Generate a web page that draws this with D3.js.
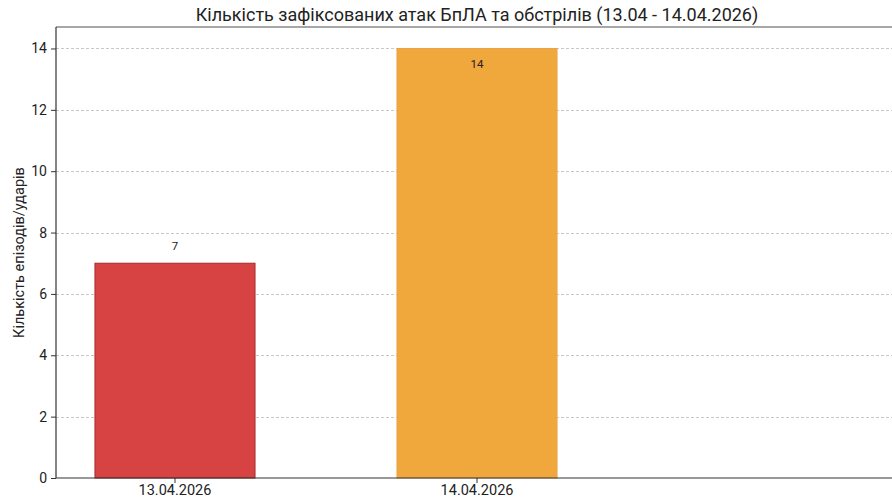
<!DOCTYPE html>
<html><head><meta charset="utf-8">
<script src="https://cdn.jsdelivr.net/npm/d3@7"></script>
<style>
html,body{margin:0;padding:0;background:#fff;}
svg{display:block;font-family:Roboto,"Noto Sans",sans-serif;}
</style></head>
<body><svg id="c" width="892" height="504"></svg>
<script>
const categories = ["13.04.2026", "14.04.2026"];
const values = [7, 14];
const colors = ["#d74343", "#f0a83d"];
const edgeColors = ["#a52a2a", "#e9a347"];
const yTicks = [0, 2, 4, 6, 8, 10, 12, 14];
const title = "Кількість зафіксованих атак БпЛА та обстрілів (13.04 - 14.04.2026)";
const yLabel = "Кількість епізодів/ударів";

(function () {
const mLeft = 56, mRight = 898, mTop = 27, mBottom = 478;
const svg = d3.select("#c");

const x = d3.scaleBand().domain(categories).range([mLeft, 596]).paddingInner(0.47).paddingOuter(0.129);
const y = d3.scaleLinear().domain([0, 14.7]).range([mBottom, mTop]);

// grid
svg.append("g").selectAll("line").data(yTicks.filter(d => d > 0)).join("line")
  .attr("x1", mLeft).attr("x2", mRight)
  .attr("y1", d => Math.round(y(d)) + 0.5).attr("y2", d => Math.round(y(d)) + 0.5)
  .attr("stroke", "#c8c8c8").attr("stroke-width", 1).attr("stroke-dasharray", "3,2");

// bars
svg.append("g").selectAll("rect").data(values).join("rect")
  .attr("x", (d, i) => x(categories[i]))
  .attr("width", x.bandwidth())
  .attr("y", d => y(d))
  .attr("height", d => y(0) - y(d))
  .attr("fill", (d, i) => colors[i])
  .attr("stroke", (d, i) => edgeColors[i]).attr("stroke-width", 1);

// value labels
const vmax = d3.max(values);
svg.append("g").selectAll("text").data(values).join("text")
  .attr("x", (d, i) => x(categories[i]) + x.bandwidth() / 2)
  .attr("y", d => d === vmax ? y(d) + 20 : y(d) - 13)
  .attr("text-anchor", "middle").attr("font-size", 11.5).attr("fill", "#222")
  .text(d => d);

// frame top
svg.append("line").attr("x1", mLeft).attr("x2", mRight).attr("y1", mTop).attr("y2", mTop)
  .attr("stroke", "#8a8a8a").attr("stroke-width", 1.5);

// y axis
const ya = svg.append("g").attr("transform", `translate(${mLeft},0)`)
  .call(d3.axisLeft(y).tickValues(yTicks).tickSize(5).tickPadding(4).tickFormat(d3.format("d")));
ya.select(".domain").attr("stroke", "#333").attr("stroke-width", 1.2).attr("d", `M0,${mTop}V${mBottom}`);
ya.selectAll(".tick line").attr("stroke", "#333");
ya.selectAll("text").attr("font-size", 14).attr("fill", "#222").attr("font-family", "Roboto");

// x axis
const xa = svg.append("g").attr("transform", `translate(0,${mBottom})`)
  .call(d3.axisBottom(x).tickSize(5).tickPadding(2));
xa.select(".domain").attr("stroke", "#333").attr("stroke-width", 1.2).attr("d", `M${mLeft},0H${mRight}`);
xa.selectAll(".tick line").attr("stroke", "#333");
xa.selectAll("text").attr("font-size", 14.5).attr("fill", "#222").attr("font-family", "Roboto");

// title
svg.append("text").attr("x", 477).attr("y", 21).attr("text-anchor", "middle")
  .attr("font-size", 18).attr("fill", "#222").text(title);

// y label
svg.append("text").attr("transform", `translate(24,${(mTop + mBottom) / 2}) rotate(-90)`)
  .attr("text-anchor", "middle").attr("font-size", 14.5).attr("fill", "#222").text(yLabel);
})();
</script></body></html>
